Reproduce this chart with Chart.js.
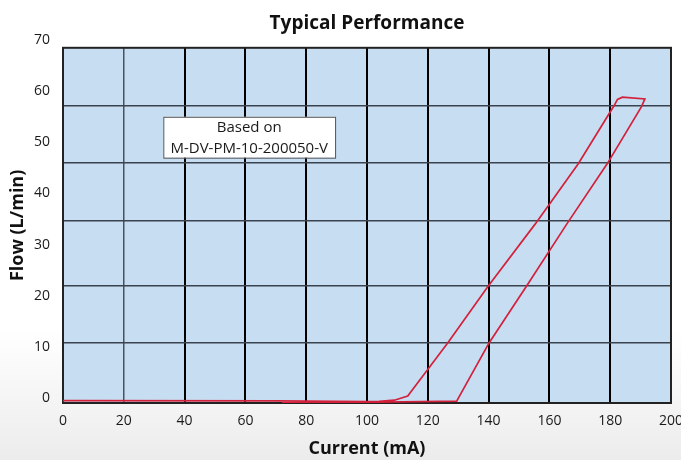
<!DOCTYPE html>
<html lang="en">
<head>
    <meta charset="UTF-8">
    <title>Typical Performance</title>
    <script src="https://cdn.jsdelivr.net/npm/chart.js"></script>
    <style>
        body {
            margin: 0;
            background: linear-gradient(to bottom, #ffffff 0px, #ffffff 330px, #ececec 460px);
        }
        .chart-container {
            width: 681px;
            height: 460px;
        }
    </style>
</head>
<body>
    <div class="chart-container">
        <canvas id="perfChart"></canvas>
    </div>

    <script>
        // hysteresis loop: up the left branch, across the top, down the right branch
        const current = [0, 70, 100, 104, 109, 113.4, 120.1, 126.6, 139.9, 155.3, 169.5, 181.3, 182.4, 184, 191.4,
                         190.3, 179.0, 165.7, 152.5, 140.2, 129.5, 100, 72];
        const flow = [-0.55, -0.6, -0.75, -0.7, -0.45, 0.37, 5.66, 10.8, 21.9, 34.0, 45.8, 57.2, 58.4, 58.85, 58.5,
                      57.0, 45.8, 34.0, 21.9, 10.8, -0.65, -0.86, -0.86];

        const xTicks = [0, 20, 40, 60, 80, 100, 120, 140, 160, 180, 200];
        const yTicks = [0, 10, 20, 30, 40, 50, 60, 70];
        // horizontal rules of the plot (they don't sit on the labels)
        const gridFlows = [10.7, 21.9, 34.6, 46.0, 57.1];

        const noteLines = ['Based on', 'M-DV-PM-10-200050-V'];
        const noteBox = { x0: 33, x1: 89.5, y0: 55.0, y1: 47.0 };

        const FONT = '"Open Sans", "Liberation Sans", sans-serif';

        const plotFrame = {
            id: 'plotFrame',
            beforeDraw(chart) {
                const a = chart.chartArea, ctx = chart.ctx;
                ctx.save();
                ctx.fillStyle = '#c6ddf2';
                ctx.fillRect(a.left, a.top, a.right - a.left, a.bottom - a.top);
                ctx.restore();
            },
            beforeDatasetsDraw(chart) {
                const a = chart.chartArea, ctx = chart.ctx;
                const xs = chart.scales.x, ys = chart.scales.y;
                ctx.save();
                ctx.strokeStyle = '#222';
                ctx.lineWidth = 2;
                ctx.strokeRect(a.left, a.top, a.right - a.left, a.bottom - a.top);

                // note box
                const l = xs.getPixelForValue(noteBox.x0), r = xs.getPixelForValue(noteBox.x1);
                const t = ys.getPixelForValue(noteBox.y0), b = ys.getPixelForValue(noteBox.y1);
                ctx.fillStyle = '#ffffff';
                ctx.fillRect(l, t, r - l, b - t);
                ctx.strokeStyle = '#555';
                ctx.lineWidth = 1;
                ctx.strokeRect(l + 0.5, t + 0.5, r - l, b - t);
                ctx.fillStyle = '#1a1a1a';
                ctx.font = '15px ' + FONT;
                ctx.textAlign = 'center';
                ctx.textBaseline = 'middle';
                const cx = (l + r) / 2, step = (b - t) / noteLines.length;
                noteLines.forEach((s, i) => ctx.fillText(s, cx, t + 1 + step * (i + 0.5)));
                ctx.restore();
            }
        };

        const ctx = document.getElementById('perfChart').getContext('2d');
        new Chart(ctx, {
            type: 'scatter',
            data: {
                datasets: [{
                    label: 'Flow',
                    data: current.map((c, i) => ({ x: c, y: flow[i] })),
                    showLine: true,
                    borderColor: '#d3213c',
                    borderWidth: 1.7,
                    pointRadius: 0,
                    tension: 0,
                    fill: false
                }]
            },
            options: {
                responsive: true,
                maintainAspectRatio: false,
                animation: false,
                layout: { padding: { left: 0, right: 0, top: 0, bottom: 0 } },
                plugins: {
                    legend: { display: false },
                    tooltip: { enabled: false },
                    title: {
                        display: true,
                        fullSize: false,
                        text: 'Typical Performance',
                        color: '#111',
                        font: { family: FONT, size: 19, weight: 'bold' },
                        padding: { top: 12, bottom: 13 }
                    }
                },
                scales: {
                    x: {
                        type: 'linear',
                        min: 0,
                        max: 200,
                        afterBuildTicks: s => { s.ticks = xTicks.map(v => ({ value: v })); },
                        afterFit: s => { s.height = 57; s.paddingLeft = 0; s.paddingRight = 10; },
                        grid: {
                            color: c => (c.tick && c.tick.value === 20 ? '#4a525c' : '#000'),
                            lineWidth: c => (c.tick && c.tick.value === 20 ? 1.5 : 2),
                            drawTicks: false
                        },
                        border: { display: false },
                        ticks: {
                            color: '#1a1a1a',
                            padding: 10,
                            font: { family: FONT, size: 14 }
                        },
                        title: {
                            display: true,
                            text: 'Current (mA)',
                            color: '#111',
                            font: { family: FONT, size: 18, weight: 'bold' },
                            padding: { top: 0, bottom: 0 }
                        }
                    },
                    y: {
                        type: 'linear',
                        min: -1,
                        max: 68.5,
                        afterBuildTicks: s => { s.ticks = yTicks.map(v => ({ value: v })); },
                        afterFit: s => { s.width = 63; },
                        grid: { display: false, drawTicks: false },
                        border: { display: false },
                        ticks: {
                            color: '#1a1a1a',
                            padding: 13,
                            font: { family: FONT, size: 14 }
                        },
                        title: {
                            display: true,
                            text: 'Flow (L/min)',
                            color: '#111',
                            font: { family: FONT, size: 18, weight: 'bold' },
                            padding: { top: 7, bottom: 0 }
                        }
                    },
                    yGrid: {
                        type: 'linear',
                        position: 'right',
                        min: -1,
                        max: 68.5,
                        afterBuildTicks: s => { s.ticks = gridFlows.map(v => ({ value: v })); },
                        afterFit: s => { s.width = 0; },
                        grid: { color: '#3a434d', lineWidth: 1.5, drawTicks: false },
                        border: { display: false },
                        ticks: { display: false }
                    }
                }
            },
            plugins: [plotFrame]
        });
    </script>
</body>
</html>
